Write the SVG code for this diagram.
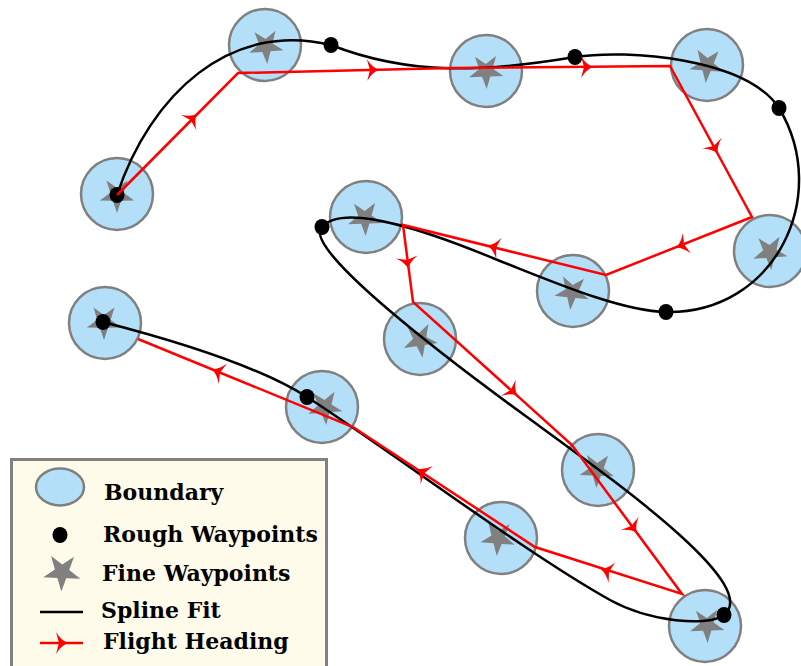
<svg xmlns="http://www.w3.org/2000/svg" xmlns:xlink="http://www.w3.org/1999/xlink" width="801" height="666" viewBox="0 0 801 666">
  <style>
    .bnd { fill: #b3dff8; stroke: #808080; stroke-width: 2.5; }
    .star { fill: #808080; }
    .spline { fill: none; stroke: #000; stroke-width: 2.5; stroke-linejoin: round; }
    .rough { fill: #000; }
    .heading { fill: none; stroke: #ff0000; stroke-width: 2.5; stroke-linejoin: miter; }
    .head { fill: #ff0000; }
    .lbl { font-family: "DejaVu Serif", "Liberation Serif", serif; font-weight: bold; font-size: 22px; fill: #000; }
  </style>
  <defs>
    <path id="star" d="M0,-18 L4.11,-5.66 L17.12,-5.56 L6.66,2.16 L10.58,14.56 L0,7 L-10.58,14.56 L-6.66,2.16 L-17.12,-5.56 L-4.11,-5.66 Z"/>
    <path id="hd" d="M10,0 Q3,-2.5 -2,-11 L1,0 L-2,11 Q3,2.5 10,0 Z"/>
  </defs>

  <!-- waypoint boundaries with fine waypoints -->
  <g id="wp1"><circle class="bnd" cx="117" cy="194" r="36"/><use href="#star" class="star" transform="translate(117,195) rotate(180)"/></g>
  <g id="wp2"><circle class="bnd" cx="265" cy="45" r="36"/><use href="#star" class="star" transform="translate(266,46) rotate(176)"/></g>
  <g id="wp3"><circle class="bnd" cx="486" cy="71" r="36"/><use href="#star" class="star" transform="translate(486,71) rotate(178)"/></g>
  <g id="wp4"><circle class="bnd" cx="707" cy="65" r="36"/><use href="#star" class="star" transform="translate(707,65) rotate(184)"/></g>
  <g id="wp5"><circle class="bnd" cx="770" cy="251" r="36"/><use href="#star" class="star" transform="translate(770,252) rotate(176)"/></g>
  <g id="wp6"><circle class="bnd" cx="573" cy="291" r="36"/><use href="#star" class="star" transform="translate(572,292) rotate(186)"/></g>
  <g id="wp7"><circle class="bnd" cx="366" cy="217" r="36"/><use href="#star" class="star" transform="translate(365,218) rotate(178)"/></g>
  <g id="wp8"><circle class="bnd" cx="420" cy="339" r="36"/><use href="#star" class="star" transform="translate(420,340) rotate(172)"/></g>
  <g id="wp9"><circle class="bnd" cx="598" cy="470" r="36"/><use href="#star" class="star" transform="translate(597,470) rotate(182)"/></g>
  <g id="wp10"><circle class="bnd" cx="322" cy="407" r="36"/><use href="#star" class="star" transform="translate(325,407) rotate(176)"/></g>
  <g id="wp11"><circle class="bnd" cx="105" cy="323" r="36"/><use href="#star" class="star" transform="translate(104,322) rotate(180)"/></g>
  <g id="wp12"><circle class="bnd" cx="501" cy="538" r="36"/><use href="#star" class="star" transform="translate(498,538) rotate(184)"/></g>
  <g id="wp13"><circle class="bnd" cx="705" cy="626" r="36"/><use href="#star" class="star" transform="translate(707,625) rotate(178)"/></g>

  <g id="connectors">
    <!-- spline fit through the rough waypoints -->
    <path class="spline" d="M117,195 C150,95 230,20 331,45 C410,76 485,72 575,57 C627,49 746,58 779,108 C832,196 775,314 666,312 C620,311 551,281 500,261 C440,236 345,200 322,227 C300,248 454,364 527,417 C616,482 762,585 724,615 C708,627 650,622 610,600 C524,552 391,451 307,397 C257,365 161,337 103,322"/>
    <!-- rough waypoints -->
    <g class="rough">
      <ellipse cx="117" cy="195" rx="7.5" ry="8"/>
      <ellipse cx="331" cy="45" rx="7.5" ry="8"/>
      <ellipse cx="575" cy="57" rx="7.5" ry="8"/>
      <ellipse cx="779" cy="108" rx="7.5" ry="8"/>
      <ellipse cx="666" cy="312" rx="7.5" ry="8"/>
      <ellipse cx="322" cy="227" rx="7.5" ry="8"/>
      <ellipse cx="724" cy="615" rx="7.5" ry="8"/>
      <ellipse cx="307" cy="397" rx="7.5" ry="8"/>
      <ellipse cx="103" cy="322" rx="7.5" ry="8"/>
    </g>
    <!-- flight heading -->
    <path class="heading" d="M117,195 L238,73 L452,68 L670,66 L752,217 L606,275 L403,225 L413,302 L572,445 L682,594 L535,547 L353,427 L138,339"/>
    <g class="head">
      <use href="#hd" transform="translate(190,121) rotate(-45.2)"/>
      <use href="#hd" transform="translate(369,70) rotate(-1.3)"/>
      <use href="#hd" transform="translate(583,67) rotate(-0.5)"/>
      <use href="#hd" transform="translate(713,145) rotate(61.5)"/>
      <use href="#hd" transform="translate(685,244) rotate(158.3)"/>
      <use href="#hd" transform="translate(497,248) rotate(193.8)"/>
      <use href="#hd" transform="translate(407,259) rotate(82.6)"/>
      <use href="#hd" transform="translate(510,389) rotate(42)"/>
      <use href="#hd" transform="translate(631,525) rotate(53.6)"/>
      <use href="#hd" transform="translate(610,572) rotate(197.7)"/>
      <use href="#hd" transform="translate(425,474) rotate(213.4)"/>
      <use href="#hd" transform="translate(221,373) rotate(202.3)"/>
    </g>
  </g>

  <!-- legend -->
  <g id="legend">
    <rect x="11.5" y="459.5" width="315" height="210" fill="#fffbeb" stroke="#808080" stroke-width="3"/>
    <ellipse class="bnd" cx="60" cy="487" rx="24" ry="18.5"/>
    <text class="lbl" x="104" y="500">Boundary</text>
    <ellipse class="rough" cx="60" cy="535" rx="7.5" ry="8"/>
    <text class="lbl" x="103" y="542">Rough Waypoints</text>
    <use href="#star" class="star" transform="translate(62,572) rotate(182) scale(1.08)"/>
    <text class="lbl" x="102" y="581">Fine Waypoints</text>
    <line x1="40" y1="612" x2="83" y2="612" stroke="#000" stroke-width="2.5"/>
    <text class="lbl" x="101" y="618">Spline Fit</text>
    <line x1="40" y1="643" x2="83" y2="643" stroke="#ff0000" stroke-width="2.5"/>
    <use href="#hd" class="head" transform="translate(58,643)"/>
    <text class="lbl" x="103" y="649">Flight Heading</text>
  </g>
</svg>
